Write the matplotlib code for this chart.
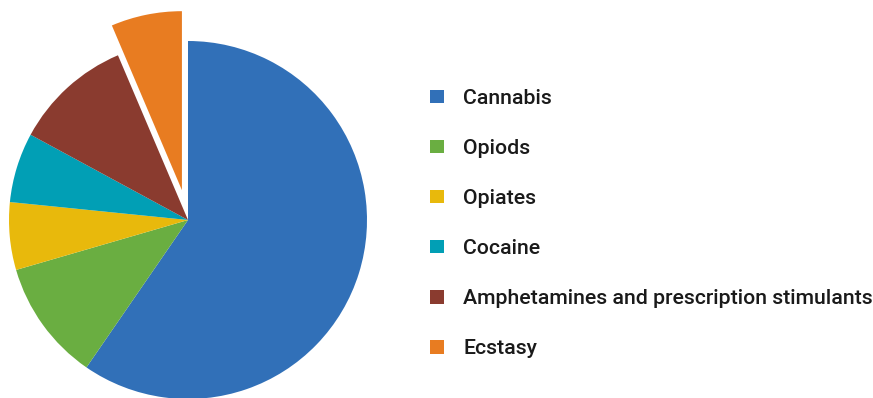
import matplotlib.pyplot as plt

labels = ["Cannabis", "Opiods", "Opiates", "Cocaine",
          "Amphetamines and prescription stimulants", "Ecstasy"]
shares = [59.6, 10.9, 6.1, 6.3, 10.7, 6.4]
colors = ["#3170B8", "#6AAE41", "#E8B90C", "#019FB5", "#8A3B2F", "#E87C21"]
explode = [0, 0, 0, 0, 0, 0.17]

plt.rcParams["font.family"] = ["Roboto", "DejaVu Sans"]

W, H = 873, 398
fig = plt.figure(figsize=(W / 100, H / 100), dpi=100)
ax = fig.add_axes([0, 0, 1, 1])

# pie drawn in pixel-sized data units, so explode offsets scale with R
R = 179
wedges, _ = ax.pie(shares, colors=colors, explode=[e * R for e in explode],
                   startangle=90, counterclock=False, radius=R,
                   center=(188, H - 220), wedgeprops=dict(linewidth=0))
ax.set_xlim(0, W)
ax.set_ylim(0, H)
ax.set_aspect("equal")
ax.axis("off")

leg = ax.legend(wedges, labels, loc="upper left", bbox_to_anchor=(430 / W, 1 - 89 / H),
                frameon=False, handlelength=0.66, handleheight=0.62,
                handletextpad=0.9, labelspacing=1.46, borderpad=0, borderaxespad=0,
                prop={"size": 15.3, "weight": "medium"})
for t in leg.get_texts():
    t.set_color("#1a1a1a")

fig.savefig("out.png", dpi=100)
